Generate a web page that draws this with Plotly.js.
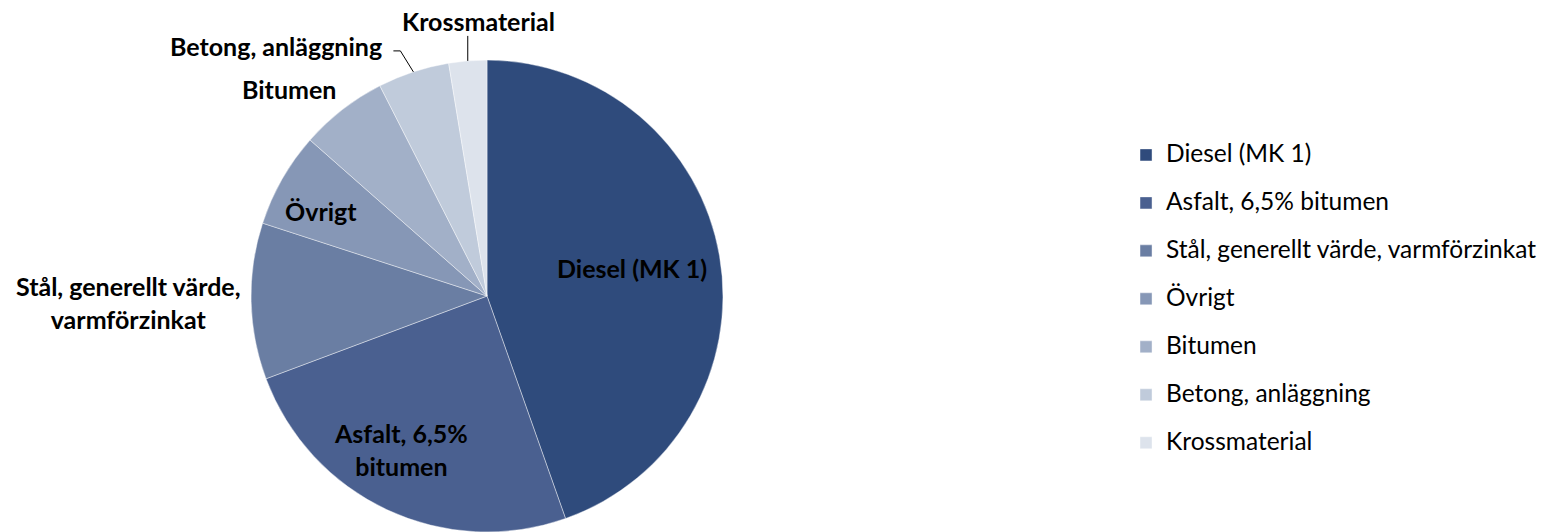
<!DOCTYPE html>
<html>
<head>
<meta charset="utf-8">
<script src="https://cdn.plot.ly/plotly-3.0.1.min.js"></script>
<style>html,body{margin:0;padding:0;background:#fff;}#chart{width:1551px;height:532px;}</style>
</head>
<body>
<div id="chart"></div>
<script>
// ---- data ----
const categories = ["Diesel (MK 1)", "Asfalt, 6,5% bitumen", "Stål, generellt värde, varmförzinkat", "Övrigt", "Bitumen", "Betong, anläggning", "Krossmaterial"];
const sliceLabels = ["Diesel (MK 1)", "Asfalt, 6,5%<br>bitumen", "Stål, generellt värde,<br>varmförzinkat", "Övrigt", "Bitumen", "Betong, anläggning", "Krossmaterial"];
const shares = [44.6, 24.7, 10.7, 6.5, 6.0, 4.9, 2.6];
const colors = ["#2f4b7c", "#4a6090", "#6a7ea3", "#8697b6", "#a2b0c8", "#c0cbdb", "#dde3ec"];

// ---- label placement styling (radius fraction, angle nudge, anchors, leader) ----
const labelStyle = [
  {rf: 0.626, da: -1.2, xa: "center"},
  {rf: 0.744, da: 4.3, xa: "center"},
  {rf: 1.034, da: -0.3, xa: "right"},
  {rf: 0.79, da: -2.6, xa: "center"},
  {rf: 1.214, da: -5.9, xa: "center"},
  {rf: 1.0, da: 0, xa: "right", lead: [[-13, -21], [-20, -21]], off: [-29, -26]},
  {rf: 1.0, da: 0, xa: "center", lead: [[0, -25]], off: [11, -40]}
];

const W = 1551, H = 532;
const dom = {x: [0.1618, 0.4662], y: [0, 0.887]};
const font = "Lato, 'Open Sans', sans-serif";

const trace = {
  type: "pie",
  labels: categories.map(c => '<span style="font-size:24.5px">' + c + '</span><br> '),
  values: shares,
  hovertext: categories,
  textinfo: "none",
  sort: false,
  direction: "clockwise",
  rotation: 0,
  marker: {colors: colors, line: {color: "rgba(255,255,255,0.55)", width: 0.75}},
  domain: dom,
  hoverinfo: "text+percent"
};

// geometry of the pie as Plotly lays it out
const cxPx = (dom.x[0] + dom.x[1]) / 2 * W;
const cyPx = H - (dom.y[0] + dom.y[1]) / 2 * H;
const R = Math.min((dom.x[1] - dom.x[0]) * W, (dom.y[1] - dom.y[0]) * H) / 2;
const total = shares.reduce((a, b) => a + b, 0);
const toPx = (a, r) => [cxPx + r * Math.sin(a * Math.PI / 180), cyPx - r * Math.cos(a * Math.PI / 180)];
const px2x = x => x / W, px2y = y => 1 - y / H;

const annotations = [], shapes = [];
let cum = 0;
shares.forEach((v, i) => {
  const mid = (cum + v / 2) / total * 360;
  cum += v;
  const st = labelStyle[i];
  let lx, ly;
  if (st.lead) {
    const [ax, ay] = toPx(mid, R);
    let path = "M" + px2x(ax) + "," + px2y(ay);
    st.lead.forEach(([dx, dy]) => { path += " L" + px2x(ax + dx) + "," + px2y(ay + dy); });
    shapes.push({type: "path", xref: "paper", yref: "paper", path: path, line: {color: "#000", width: 1}});
    lx = ax + st.off[0]; ly = ay + st.off[1];
  } else {
    [lx, ly] = toPx(mid + st.da, st.rf * R);
  }
  annotations.push({
    xref: "paper", yref: "paper", x: px2x(lx), y: px2y(ly),
    xanchor: st.xa, yanchor: "middle", showarrow: false,
    text: sliceLabels[i], align: "center",
    font: {family: font, size: 25, color: "#000", weight: "bold"}
  });
});

const layout = {
  width: W, height: H,
  margin: {l: 0, r: 0, t: 0, b: 0},
  paper_bgcolor: "#fff",
  showlegend: true,
  legend: {
    x: 0.726, xanchor: "left", y: 0.417, yanchor: "middle",
    font: {family: font, size: 17.3, color: "#000"},
    traceorder: "normal",
    valign: "top"
  },
  annotations: annotations,
  shapes: shapes
};

Plotly.newPlot("chart", [trace], layout, {displayModeBar: false, staticPlot: true});
</script>
</body>
</html>
